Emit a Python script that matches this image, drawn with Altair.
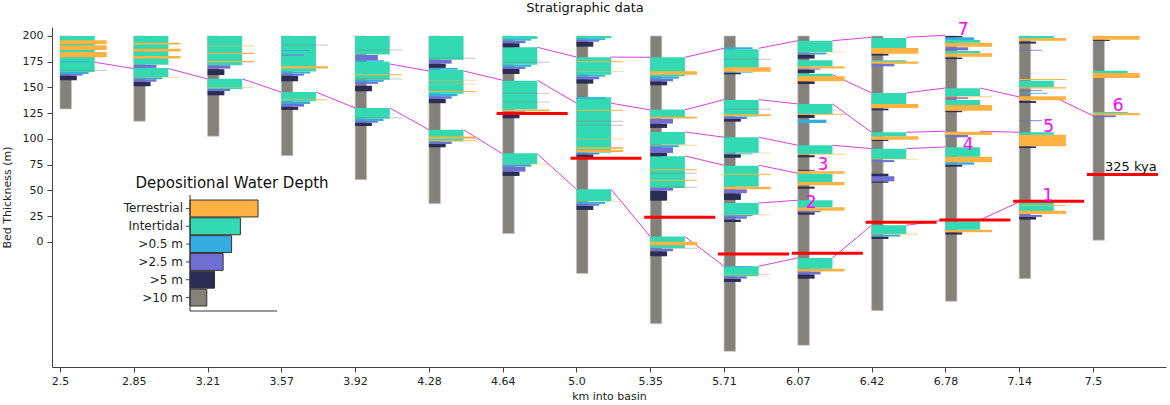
import json
import altair as alt
import pandas as pd

# ---------------- data ----------------
km_labels = ["2.5", "2.85", "3.21", "3.57", "3.92", "4.28", "4.64", "5.0",
             "5.35", "5.71", "6.07", "6.42", "6.78", "7.14", "7.5"]

facies_names = ["Terrestrial", "Intertidal", ">0.5 m", ">2.5 m", ">5 m", ">10 m"]
facies_codes = ["T", "I", "S", "M", "D", "G"]
facies_colors = ["#ffb142", "#33d9b2", "#34ace0", "#706fd3", "#2c2c54", "#84817a"]
facies_size = [4.25, 3.15, 2.6, 2.07, 1.53, 1.05]

column_base = [129.1, 117.2, 102.6, 83.8, 60.5, 37.2, 8.1, -30.7, -79.3,
               -106.1, -100.3, -66.7, -57.6, -35.6, 1.7]
column_top = 200.0

# (base m, top m, facies); lowercase = faint thin bed
layers_0 = [(157, 161.5, "D"), (161.5, 163, "M"), (163, 165, "S"), (165, 200, "I"),
            (192.2, 195.8, "T"), (186.4, 191, "T"), (179.3, 184.5, "T"),
            (174.5, 175.5, "S"), (166.3, 167.3, "g")]
layers_1 = [(151.2, 155.6, "D"), (155.6, 158, "M"), (158, 160, "S"), (160, 169, "I"),
            (159.5, 160.5, "t"), (169, 172, "M"), (172, 200, "I"),
            (191.6, 193.5, "T"), (184.8, 187.7, "T"), (178, 180.6, "T")]
layers_2 = [(142.4, 146.5, "D"), (146.5, 148.5, "M"), (148.5, 158.5, "I"), (149.5, 150.5, "t"),
            (162, 167.7, "D"), (168.3, 171.6, "M"), (171.6, 200, "I"),
            (189.7, 190.9, "t"), (182.6, 183.8, "T"), (174.4, 175.6, "T")]
layers_3 = [(128.2, 131.4, "D"), (131.4, 134, "M"), (134, 136.5, "S"), (136.5, 145.6, "I"),
            (137.5, 138.4, "T"), (156, 161.5, "D"), (161.5, 163.5, "M"), (163.5, 165.5, "S"),
            (165.5, 200, "I"), (168.5, 170.5, "T"), (181, 182, "M"), (185.5, 186.3, "S"),
            (190.8, 191.8, "g")]
layers_4 = [(112.6, 115.8, "D"), (115.8, 117.5, "M"), (117.5, 119.7, "S"), (119.7, 130.1, "I"),
            (120, 121, "g"), (146.3, 151.7, "D"), (153.5, 155.5, "M"), (155.5, 157.5, "S"),
            (157.5, 175, "I"), (161.8, 162.8, "T"), (157.8, 158.8, "g"), (175, 176.5, "S"),
            (176.5, 181.5, "M"), (182, 200, "I"), (185.8, 186.8, "g")]
layers_5 = [(91.9, 95.1, "D"), (95.1, 97.5, "M"), (97.5, 109, "I"), (98, 98.8, "T"),
            (100.3, 102.4, "T"), (134.7, 139.1, "D"), (139.1, 141.5, "M"), (141.5, 144, "S"),
            (144, 167.3, "I"), (145.5, 146.5, "T"), (152.9, 153.9, "t"), (156.6, 157.6, "t"),
            (167.3, 169, "S"), (169, 173.1, "D"), (173.1, 177, "M"), (177, 200, "I"),
            (177.9, 178.9, "g")]
layers_6 = [(64.1, 68.3, "D"), (68.3, 73.1, "M"), (73.1, 75.7, "S"), (75.7, 86.1, "I"),
            (75, 76, "t"), (120.1, 123.3, "D"), (123.3, 126.9, "M"), (128.5, 156.6, "I"),
            (126.9, 128.5, "T"), (135.4, 136.4, "g"), (143.9, 144.9, "g"),
            (163.1, 168, "D"), (168, 170, "M"), (170, 172, "S"), (172, 189, "I"),
            (173.9, 174.9, "g"), (189, 193, "D"), (193, 195.5, "M"), (195.5, 197, "S"),
            (197, 200, "I")]
layers_7 = [(31.1, 35.2, "D"), (35.2, 37, "M"), (37, 38.8, "S"), (38.8, 39.6, "t"),
            (39.5, 51.2, "I"), (82.2, 85, "D"), (85, 86.5, "M"), (86.5, 140.5, "I"),
            (87.4, 89.3, "T"), (90.3, 92, "T"), (99.5, 100.5, "t"), (112.8, 113.8, "g"),
            (116.7, 117.7, "g"), (127.3, 128.3, "T"), (139, 140.5, "S"),
            (153.7, 158, "D"), (158, 160.5, "M"), (160.5, 162.4, "S"), (162.4, 179.3, "I"),
            (164.9, 165.9, "t"), (174.5, 175.5, "T"), (189.6, 194.5, "D"), (194.5, 196, "M"),
            (196, 197.8, "S"), (197.8, 200, "I")]
layers_8 = [(-13.9, -9, "D"), (-9, -6.5, "M"), (-6.6, -5.6, "g"), (-5.8, 5.2, "I"),
            (-3.2, 0.3, "T"), (40.1, 49.8, "D"), (49.8, 52.4, "M"), (52.4, 83.2, "I"),
            (52.6, 53.6, "g"), (59.4, 60.4, "T"), (66.2, 67.2, "g"), (69.7, 70.7, "T"),
            (83.2, 86.4, "D"), (86.4, 92, "M"), (92, 94.5, "S"), (93.5, 94.5, "t"),
            (94.5, 106.8, "I"), (110.7, 114.9, "D"), (114.9, 119.8, "M"), (121.1, 128.5, "I"),
            (119.8, 121.5, "T"), (152.1, 156, "D"), (156, 158.5, "M"), (158.5, 160.9, "S"),
            (160.9, 179.3, "I"), (162.4, 165.7, "T")]
layers_9 = [(-38.8, -35.6, "D"), (-35.6, -33.3, "M"), (-33.3, -23.6, "I"), (-32.1, -31.1, "t"),
            (-24.5, -23.6, "S"), (19.4, 21.7, "D"), (22.6, 25, "M"), (25, 26.5, "S"),
            (26.5, 37.9, "I"), (25.9, 26.9, "t"), (40.8, 47.3, "D"), (47.3, 51.2, "M"),
            (53.7, 74.1, "I"), (51.2, 53.7, "T"), (65.3, 66.3, "T"), (81.8, 85.1, "D"),
            (85.1, 86, "S"), (86, 86.8, "t"), (86.7, 101.7, "I"), (116.8, 119.4, "D"),
            (119.4, 121.7, "M"), (121.7, 137.9, "I"), (122.3, 124, "T"), (128.3, 129.3, "g"),
            (162.8, 164.4, "D"), (164.4, 165.3, "S"), (168.6, 187.1, "I"), (165.3, 169.6, "T"),
            (176.9, 177.9, "g"), (187.1, 189, "S")]
layers_10 = [(-35.6, -31.5, "D"), (-31.5, -28.6, "M"), (-28.6, -25.9, "T"), (-25.9, -15.5, "I"),
             (26.5, 28.8, "D"), (28.8, 30.4, "M"), (30.4, 33.7, "T"), (33.7, 40.5, "I"),
             (51.7, 53.7, "D"), (57.3, 66.3, "I"), (55, 58.3, "T"), (66.3, 68.6, "T"),
             (69.2, 70, "D"), (82.2, 84.2, "D"), (85.4, 93.9, "I"), (84.8, 85.6, "T"),
             (115.5, 118.7, "S"), (120.4, 123.3, "D"), (124.3, 134, "I"), (123.6, 124.4, "T"),
             (153.4, 156, "D"), (159.9, 163.4, "I"), (156, 160.9, "T"), (164.1, 167.3, "D"),
             (167.3, 168.5, "M"), (168.5, 170.6, "T"), (170.6, 176.4, "I"), (178, 182, "D"),
             (182, 184, "S"), (184.5, 195.4, "I"), (184, 185, "t")]
layers_11 = [(2.9, 5.2, "D"), (5.2, 7.2, "S"), (7.8, 16.2, "I"), (7.1, 8.1, "t"),
             (57.5, 58.9, "D"), (58.9, 63.8, "M"), (63.8, 66.3, "D"), (77.5, 79.5, "M"),
             (80.6, 90.6, "I"), (79.9, 80.9, "t"), (98, 99.3, "D"), (99.3, 102.6, "T"),
             (102.6, 106.5, "I"), (127.8, 129.5, "D"), (130.1, 134, "T"), (134, 144.7, "I"),
             (170.5, 173.1, "M"), (174.4, 176.4, "I"), (173.1, 175.2, "T"), (181, 182.8, "D"),
             (182.8, 188.3, "T"), (188.3, 198, "I")]
layers_12 = [(7.2, 9.4, "D"), (9.4, 11.9, "T"), (11.9, 20.1, "I"), (73.1, 75, "D"),
             (75, 77.4, "S"), (77.4, 82.8, "T"), (82.8, 91.9, "I"), (101.6, 103.9, "M"),
             (103.9, 107.1, "T"), (126, 127.5, "D"), (127.5, 133, "T"), (133, 137.9, "I"),
             (139, 140.5, "M"), (141.7, 149.2, "I"), (140.5, 141.3, "T"), (177.6, 179, "D"),
             (179.9, 183.2, "T"), (183.2, 185.4, "I"), (186, 189, "M"), (189.6, 193.5, "T"),
             (193.5, 196.1, "I"), (196.1, 198.7, "S"), (198.7, 200, "D")]
layers_13 = [(21.7, 24.3, "D"), (24.3, 26.3, "M"), (29.8, 38.8, "I"), (27.2, 30.4, "T"),
             (34.8, 35.6, "T"), (91.2, 92.9, "D"), (92.9, 104.2, "T"), (104.2, 106.5, "I"),
             (117.3, 118.1, "M"), (135, 136.8, "D"), (137.6, 141.5, "T"), (144, 144.8, "S"),
             (146.5, 147.3, "M"), (150.2, 156.6, "I"), (149, 150.2, "T"), (157.2, 158.2, "T"),
             (185.8, 186.6, "M"), (192.6, 194.5, "D"), (195.4, 198, "T"), (197.7, 200, "I")]
layers_14 = [(121.1, 123, "M"), (123, 125.2, "T"), (125.2, 126.2, "I"), (159.2, 164, "T"),
             (164, 166.3, "I"), (195.2, 196.4, "D"), (196.4, 200, "T")]

all_layers = [layers_0, layers_1, layers_2, layers_3, layers_4, layers_5, layers_6,
              layers_7, layers_8, layers_9, layers_10, layers_11, layers_12, layers_13,
              layers_14]

# correlation surfaces: (first column, heights at successive columns)
surface_1 = (0, [174.5, 168.3, 158.3, 145.5, 130.1, 109.0, 85.5, 51.2, 5.2, -23.6,
                 -15.5, 16.2, 21.4, 38.8])
surface_7 = (6, [189.0, 179.5, 179.3, 188.0, 195.4, 198.7, 200.7])
surface_5 = (4, [172.8, 166.0, 157.0, 134.7, 128.2, 138.2, 134.0, 106.5, 107.5, 106.5])
surface_4 = (8, [106.8, 101.7, 93.9, 90.6, 92.2])
surface_3 = (8, [83.5, 74.5, 66.7])
surface_2 = (9, [37.8, 40.5])
surface_6 = (10, [162.4, 144.7, 149.5, 140.8, 122.6])
surfaces = [surface_1, surface_2, surface_3, surface_4, surface_5, surface_6, surface_7]

surface_label_text = ["1", "2", "3", "4", "5", "6", "7"]
surface_label_x = [13.39, 10.18, 10.34, 12.31, 13.40, 14.34, 12.24]
surface_label_y = [44.7, 37.9, 74.8, 94.2, 111.7, 132.0, 205.8]

kya_columns = [6, 7, 8, 9, 10, 11, 12, 13, 14]
kya_depth = [124.6, 81.2, 24.0, -11.7, -11.0, 19.1, 21.4, 39.5, 65.4]
kya_label = "325 kya"

# ---------------- layout helpers ----------------
W, H = 1114, 340
X_DOM = [-0.108, 14.99]
Y_DOM = [-121.4, 208.7]
PX = (X_DOM[1] - X_DOM[0]) / W          # data units per pixel (x)
COL_PX_PER_SIZE = 11.0
size_of = dict(zip(facies_codes, facies_size))

xs = alt.Scale(domain=X_DOM, nice=False, zero=False)
ys = alt.Scale(domain=Y_DOM, nice=False, zero=False)
color_scale = alt.Scale(domain=facies_codes, range=facies_colors)
label_expr = json.dumps(km_labels) + "[datum.value]"

X_AXIS = alt.Axis(values=list(range(15)), labelExpr=label_expr, grid=False,
                  tickSize=5, labelPadding=3, labelFontSize=11,
                  titleFontSize=11, titleFontWeight="normal", titlePadding=4,
                  domainColor="#444", tickColor="#444", labelColor="#222",
                  titleColor="#222", labelFlush=False)
Y_AXIS = alt.Axis(values=list(range(0, 201, 25)), grid=False, tickSize=5,
                  labelPadding=4, labelFontSize=11, titleFontSize=11,
                  titleFontWeight="normal", titlePadding=10,
                  domainColor="#444", tickColor="#444", labelColor="#222",
                  titleColor="#222")


def xenc():
    return alt.X("x:Q", scale=xs, title="km into basin", axis=X_AXIS)


def yenc():
    return alt.Y("y:Q", scale=ys, title="Bed Thickness (m)", axis=Y_AXIS)


# columns (>10 m background)
col_df = pd.DataFrame({
    "x": list(range(15)),
    "x2": [i + size_of["G"] * COL_PX_PER_SIZE * PX for i in range(15)],
    "y": column_base,
    "y2": [column_top] * 15,
})

rows = []
for c, lay in enumerate(all_layers):
    for b, t, f in lay:
        faint = f.islower()
        code = f.upper()
        w = size_of["T"] if faint else size_of[code]
        rows.append({"x": c, "x2": c + w * COL_PX_PER_SIZE * PX, "y": b, "y2": t,
                     "code": code, "op": 0.45 if faint else 1.0})
lay_df = pd.DataFrame(rows)

seg = []
I_W = size_of["I"] * COL_PX_PER_SIZE * PX
for start, hs in surfaces:
    for k in range(len(hs) - 1):
        c = start + k
        seg.append({"x": c + I_W, "x2": c + 1, "y": hs[k], "y2": hs[k + 1]})
seg_df = pd.DataFrame(seg)

kya_df = pd.DataFrame({"x": [c - 6 * PX for c in kya_columns],
                       "x2": [c + 65 * PX for c in kya_columns],
                       "y": kya_depth})

lab_df = pd.DataFrame({"x": surface_label_x, "y": surface_label_y, "t": surface_label_text})
kya_txt_df = pd.DataFrame({"x": [kya_columns[-1] + 12 * PX], "y": [72.8], "t": [kya_label]})

base_cols = alt.Chart(col_df).mark_rect(color="#84817a", stroke="#c9c6c0",
                                        strokeWidth=1, strokeOpacity=0.7).encode(
    x=xenc(), x2="x2:Q", y=yenc(), y2="y2:Q")

corr = alt.Chart(seg_df).mark_rule(color="#e03ce0", strokeWidth=1).encode(
    x=xenc(), x2="x2:Q", y=yenc(), y2="y2:Q")

beds = alt.Chart(lay_df).mark_rect().encode(
    x=xenc(), x2="x2:Q", y=yenc(), y2="y2:Q",
    color=alt.Color("code:N", scale=color_scale, legend=None),
    opacity=alt.Opacity("op:Q", scale=None, legend=None),
)

kya = alt.Chart(kya_df).mark_rule(color="#ff0000", strokeWidth=3).encode(
    x=xenc(), x2="x2:Q", y=yenc())

labels = alt.Chart(lab_df).mark_text(color="#ff00ff", fontSize=17, baseline="middle",
                                     align="center").encode(
    x=xenc(), y=yenc(), text="t:N")

kya_txt = alt.Chart(kya_txt_df).mark_text(color="#111", fontSize=13, baseline="middle",
                                          align="left").encode(
    x=xenc(), y=yenc(), text="t:N")

main = alt.layer(base_cols, corr, beds, kya, labels, kya_txt)

# ---------------- inset legend ----------------
leg_df = pd.DataFrame({"name": facies_names, "code": facies_codes,
                       "x0": [0.0] * 6, "size": facies_size})
lx = alt.Scale(domain=[0, 6], range=[138, 234], nice=False, zero=False)
ly = alt.Scale(domain=facies_names, range=[173, 279], paddingInner=0.05, paddingOuter=0)

leg_bars = alt.Chart(leg_df).mark_rect(stroke="#333", strokeWidth=1).encode(
    x=alt.X("x0:Q", scale=lx, axis=None), x2="size:Q",
    y=alt.Y("name:N", scale=ly, sort=facies_names, axis=None),
    color=alt.Color("code:N", scale=color_scale, legend=None))
leg_text = alt.Chart(leg_df).mark_text(align="right", baseline="middle", fontSize=12,
                                       color="#222").encode(
    x=alt.value(131),
    y=alt.Y("name:N", scale=ly, sort=facies_names, axis=None), text="name:N")
leg_ticks = alt.Chart(leg_df).mark_rule(color="#444", strokeWidth=1).encode(
    x=alt.value(134), x2=alt.value(138),
    y=alt.Y("name:N", scale=ly, sort=facies_names, axis=None))
leg_vline = alt.Chart(leg_df.head(1)).mark_rule(color="#333", strokeWidth=1).encode(
    x=alt.value(138), y=alt.value(168), y2=alt.value(284))
leg_hline = alt.Chart(leg_df.head(1)).mark_rule(color="#333", strokeWidth=1).encode(
    x=alt.value(138), x2=alt.value(225), y=alt.value(284))
leg_title = alt.Chart(leg_df.head(1)).mark_text(fontSize=15, color="#111",
                                                baseline="middle", align="center").encode(
    x=alt.value(180), y=alt.value(156), text=alt.value("Depositional Water Depth"))

legend = alt.layer(leg_bars, leg_text, leg_ticks, leg_vline, leg_hline, leg_title)

chart = alt.layer(main, legend).resolve_scale(
    x="independent", y="independent"
).resolve_axis(
    x="independent", y="independent"
).properties(
    width=W, height=H,
    title=alt.TitleParams("Stratigraphic data", fontSize=13, fontWeight="normal",
                          anchor="middle", dx=-24, offset=6, color="#111"),
    autosize=alt.AutoSizeParams(type="none"),
    padding={"left": 52, "top": 27, "right": 4, "bottom": 38},
).configure(font="DejaVu Sans").configure_view(stroke=None)

chart.save("out.html", embed_options={"renderer": "svg", "actions": False})
